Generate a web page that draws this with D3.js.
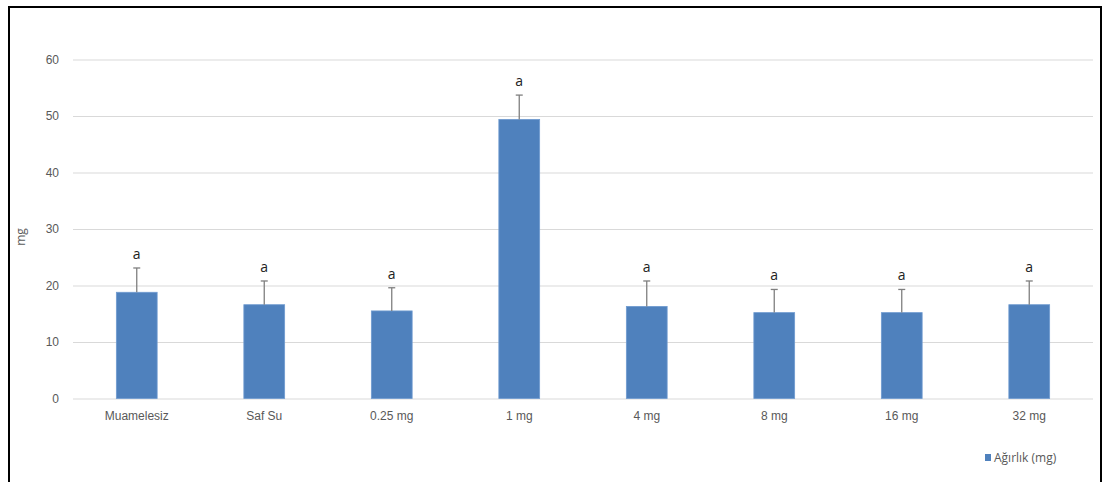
<!DOCTYPE html>
<html>
<head>
<meta charset="utf-8">
<script src="https://cdn.jsdelivr.net/npm/d3@7"></script>
<style>
  html, body { margin: 0; padding: 0; background: #fff; }
  svg { display: block; font-family: "Open Sans", "Liberation Sans", sans-serif; }
</style>
</head>
<body>
<svg id="chart" width="1107" height="482"></svg>
<script>
// Treatment groups, mean weight (mg), upper error (mg) and significance letters
const categories = ["Muamelesiz", "Saf Su", "0.25 mg", "1 mg", "4 mg", "8 mg", "16 mg", "32 mg"];
const means = [18.8, 16.6, 15.5, 49.4, 16.3, 15.2, 15.2, 16.6];
const errors = [4.3, 4.2, 4.1, 4.3, 4.5, 4.1, 4.1, 4.2];
const letters = ["a", "a", "a", "a", "a", "a", "a", "a"];
const yTicks = [0, 10, 20, 30, 40, 50, 60];
const seriesName = "Ağırlık (mg)";
const yTitle = "mg";

const svg = d3.select("#chart");
const W = 1107, H = 482;

// outer frame
svg.append("rect")
  .attr("x", 9).attr("y", 7)
  .attr("width", 1092).attr("height", 490)
  .attr("fill", "#fff").attr("stroke", "#000").attr("stroke-width", 2);

const plot = { left: 73, right: 1093, top: 59.5, bottom: 398.5 };

const x = d3.scaleBand()
  .domain(categories)
  .range([plot.left, plot.right])
  .paddingInner(0.68)
  .paddingOuter(0.34);

const y = d3.scaleLinear()
  .domain([0, 60])
  .range([plot.bottom, plot.top]);

// horizontal gridlines + y tick labels
const yAxis = d3.axisLeft(y)
  .tickValues(yTicks)
  .tickSize(-(plot.right - plot.left))
  .tickPadding(14)
  .tickFormat(d3.format("d"));

const gy = svg.append("g")
  .attr("transform", `translate(${plot.left},0)`)
  .call(yAxis);
gy.select(".domain").remove();
gy.selectAll(".tick line").attr("stroke", "#d9d9d9").attr("stroke-width", 1);
gy.selectAll(".tick text")
  .attr("fill", "#595959")
  .style("font-size", "12px");

// x tick labels
const xAxis = d3.axisBottom(x).tickSize(0).tickPadding(13);
const gx = svg.append("g")
  .attr("transform", `translate(0,${plot.bottom})`)
  .call(xAxis);
gx.select(".domain").remove();
gx.selectAll(".tick text")
  .attr("fill", "#595959")
  .style("font-size", "12px");

const data = categories.map((c, i) => ({ cat: c, mean: means[i], err: errors[i], letter: letters[i] }));

// bars
svg.append("g").selectAll("rect")
  .data(data)
  .join("rect")
  .attr("x", d => x(d.cat))
  .attr("y", d => y(d.mean))
  .attr("width", x.bandwidth())
  .attr("height", d => y(0) - y(d.mean))
  .attr("fill", "#4f81bd")
  .attr("stroke", "#6f9bd0")
  .attr("stroke-width", 0.8);

// upper error bars
const eb = svg.append("g").attr("stroke", "#7f7f7f").attr("stroke-width", 1.3);
eb.selectAll("line.v")
  .data(data)
  .join("line")
  .attr("class", "v")
  .attr("x1", d => x(d.cat) + x.bandwidth() / 2)
  .attr("x2", d => x(d.cat) + x.bandwidth() / 2)
  .attr("y1", d => y(d.mean))
  .attr("y2", d => y(d.mean + d.err));
eb.selectAll("line.cap")
  .data(data)
  .join("line")
  .attr("class", "cap")
  .attr("x1", d => x(d.cat) + x.bandwidth() / 2 - 3.5)
  .attr("x2", d => x(d.cat) + x.bandwidth() / 2 + 3.5)
  .attr("y1", d => y(d.mean + d.err))
  .attr("y2", d => y(d.mean + d.err));

// significance letters
svg.append("g").selectAll("text")
  .data(data)
  .join("text")
  .attr("x", d => x(d.cat) + x.bandwidth() / 2)
  .attr("y", d => y(d.mean + d.err) - 9)
  .attr("text-anchor", "middle")
  .attr("fill", "#222")
  .style("font-size", "14px")
  .text(d => d.letter);

// y axis title
svg.append("text")
  .attr("transform", `translate(25,237) rotate(-90)`)
  .attr("text-anchor", "middle")
  .attr("fill", "#595959")
  .style("font-size", "12px")
  .text(yTitle);

// legend
const lg = svg.append("g").attr("transform", "translate(985,458)");
lg.append("rect").attr("x", 0).attr("y", -4).attr("width", 6).attr("height", 7).attr("fill", "#4f81bd");
lg.append("text")
  .attr("x", 9).attr("y", 4)
  .attr("fill", "#595959")
  .style("font-size", "12px")
  .text(seriesName);
</script>
</body>
</html>
